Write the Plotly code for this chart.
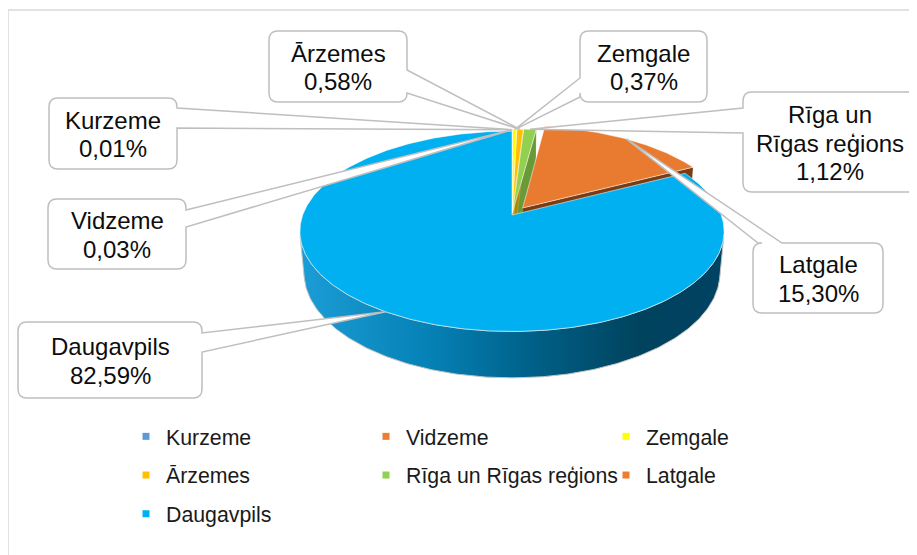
import math
import numpy as np
import plotly.graph_objects as go

# ---------------- data ----------------
regions = ["Kurzeme", "Vidzeme", "Zemgale", "Ārzemes", "Rīga un Rīgas reģions", "Latgale", "Daugavpils"]
callout_names = ["Kurzeme", "Vidzeme", "Zemgale", "Ārzemes", "Rīga un<br>Rīgas reģions", "Latgale", "Daugavpils"]
shares = [0.01, 0.03, 0.37, 0.58, 1.12, 15.30, 82.59]

# ---------------- styles ----------------
top_colors = ["#5B9BD5", "#ED7D31", "#FFFF00", "#FFC000", "#92D050", "#E97B31", "#00B0F0"]
side_colors = ["#3A6F9E", "#A8561F", "#B5B500", "#B38600", "#6A9A38", "#7A3C14", "#0080B0"]
legend_colors = ["#5B9BD5", "#ED7D31", "#FFFF00", "#FFC000", "#92D050", "#ED7D31", "#00B0F0"]
explode = [0.02, 0.02, 0.02, 0.025, 0.03, 0.09, 0.0]
wall_gradient = [[0.0, "#1C9DD6"], [0.3, "#0582B6"], [0.55, "#006088"], [0.8, "#00435E"], [1.0, "#004262"]]

W, H = 917, 555
OFF = 8  # the page body margin: axis units are screen pixels
FONT = "Liberation Sans, Arial, sans-serif"

# projection of the 3-D pie (screen pixels == axis units)
CX, CY = 512.0, 215.0
FOCAL = 1140.0
DIST = 5.447
ES, EC = 0.466, 0.885
THICK = 0.227
CAM = np.array([0.0, -DIST * EC, DIST * ES])


def project(X, Y, Z):
    X = np.asarray(X, float); Y = np.asarray(Y, float); Z = np.asarray(Z, float)
    yc = Y * ES + Z * EC
    dep = DIST + Y * EC - Z * ES
    return CX + FOCAL * X / dep, CY - FOCAL * yc / dep


def depth(X, Y, Z):
    return DIST + np.mean(Y) * EC - np.mean(Z) * ES


# callout layout: box x0, y0, x1, y1, side of pointer, pointer base from, to
callout_layout = {
    "Kurzeme": (49, 98, 177, 169, "right", 108, 128),
    "Vidzeme": (48, 199, 186, 269, "right", 210, 227),
    "Zemgale": (580, 31, 707, 102, "left", 78, 97),
    "Ārzemes": (269, 31, 407, 102, "right", 70, 93),
    "Rīga un Rīgas reģions": (743, 92, 916, 192, "left", 108, 133),
    "Latgale": (753, 243, 883, 313, "top", 758, 782),
    "Daugavpils": (18, 322, 202, 398, "right", 333, 352),
}
legend_cols = [[0, 3, 6], [1, 4], [2, 5]]
legend_text_x = [166, 406, 646]
legend_top = 416

fig = go.Figure()

# ---------------- geometry of slices ----------------
tot = sum(shares)
cum = np.concatenate([[0], np.cumsum(shares)]) / tot * 2 * math.pi
sides = []
tops = []
targets = []
for i, v in enumerate(shares):
    a, b = cum[i], cum[i + 1]
    m = 0.5 * (a + b)
    ox, oy = explode[i] * math.sin(m), explode[i] * math.cos(m)
    n = max(3, int(math.degrees(b - a) / 0.7) + 2)
    th = np.linspace(a, b, n)
    rx, ry = ox + np.sin(th), oy + np.cos(th)
    targets.append(tuple(float(t) for t in project(ox + math.sin(m), oy + math.cos(m), 0.0)))
    tx, ty = project(np.r_[ox, rx, ox], np.r_[oy, ry, oy], np.zeros(n + 2))
    tops.append((depth(rx, ry, 0), dict(x=tx, y=ty, fillcolor=top_colors[i],
                                         line=dict(color="rgba(255,255,255,0.65)", width=0.8))))
    vis = (-np.sin(th) * (rx - CAM[0]) - np.cos(th) * (ry - CAM[1])) > 0
    idx = np.where(vis)[0]
    if len(idx) > 1:
        segs = np.split(idx, np.where(np.diff(idx) > 1)[0] + 1)
        for sg in segs:
            if len(sg) < 2:
                continue
            X = np.r_[rx[sg], rx[sg][::-1]]
            Y = np.r_[ry[sg], ry[sg][::-1]]
            Z = np.r_[np.zeros(len(sg)), -THICK * np.ones(len(sg))]
            px, py = project(np.r_[X, X[0]], np.r_[Y, Y[0]], np.r_[Z, Z[0]])
            kw = dict(x=px, y=py, line=dict(color="#C4C4C4", width=1))
            if i == len(shares) - 1:
                kw["fillgradient"] = dict(type="horizontal", colorscale=wall_gradient)
            else:
                kw["fillcolor"] = side_colors[i]
            sides.append((depth(X, Y, Z), kw))
    for ang, nrm in ((a, (-math.cos(a), math.sin(a))), (b, (math.cos(b), -math.sin(b)))):
        if explode[i] == 0:
            continue
        X = np.array([ox, ox + math.sin(ang), ox + math.sin(ang), ox, ox])
        Y = np.array([oy, oy + math.cos(ang), oy + math.cos(ang), oy, oy])
        Z = np.array([0, 0, -THICK, -THICK, 0])
        cx_, cy_ = X[:4].mean(), Y[:4].mean()
        dot = nrm[0] * (CAM[0] - cx_) + nrm[1] * (CAM[1] - cy_)
        if dot <= 0:
            continue
        px, py = project(X, Y, Z)
        sides.append((depth(X[:4], Y[:4], Z[:4]), dict(x=px, y=py, fillcolor=side_colors[i],
                                                         line=dict(color="rgba(255,255,255,0.3)", width=0.5))))

for _, kw in sorted(sides, key=lambda s: -s[0]):
    fig.add_trace(go.Scatter(mode="lines", fill="toself", showlegend=False, hoverinfo="skip", **kw))
for _, kw in sorted(tops, key=lambda s: -s[0]):
    fig.add_trace(go.Scatter(mode="lines", fill="toself", showlegend=False, hoverinfo="skip", **kw))

# ---------------- legend ----------------
legend_keys = ["legend", "legend2", "legend3"]
for c, idxs in enumerate(legend_cols):
    for i in idxs:
        fig.add_trace(go.Scatter(x=[None], y=[None], mode="markers", name=regions[i],
                                 legend=legend_keys[c], legendgroup=regions[i],
                                 marker=dict(symbol="square", size=7, color=legend_colors[i])))

# ---------------- callouts ----------------
def fmt(p):
    return f"{p[0]:.2f},{p[1]:.2f}"


def callout_path(x0, y0, x1, y1, r, side, g1, g2, target):
    order = ["top", "right", "bottom", "left"]
    ends = {"top": (x1 - r, y0), "right": (x1, y1 - r), "bottom": (x0 + r, y1), "left": (x0, y0 + r)}
    corners = {"top": ((x1, y0), (x1, y0 + r)), "right": ((x1, y1), (x1 - r, y1)),
               "bottom": ((x0, y1), (x0, y1 - r)), "left": ((x0, y0), (x0 + r, y0))}

    def pt(s, t):
        return {"top": (t, y0), "right": (x1, t), "bottom": (t, y1), "left": (x0, t)}[s]

    lo, hi = min(g1, g2), max(g1, g2)
    if side in ("top", "right"):
        first, second = pt(side, lo), pt(side, hi)
    else:
        first, second = pt(side, hi), pt(side, lo)
    k = order.index(side)
    d = f"M{fmt(second)} L{fmt(ends[side])} Q{fmt(corners[side][0])} {fmt(corners[side][1])}"
    for j in range(1, 4):
        s = order[(k + j) % 4]
        d += f" L{fmt(ends[s])} Q{fmt(corners[s][0])} {fmt(corners[s][1])}"
    d += f" L{fmt(first)} L{fmt(target)} Z"
    return d


shapes = [dict(type="rect", xref="x", yref="y", x0=8, y0=10, x1=940, y1=580,
               line=dict(color="#D9D9D9", width=1.5), fillcolor="rgba(0,0,0,0)", layer="below")]
annotations = []
for i, name in enumerate(regions):
    x0, y0, x1, y1, side, g1, g2 = callout_layout[name]
    shapes.append(dict(type="path", xref="x", yref="y", layer="above",
                       path=callout_path(x0, y0, x1, y1, 9, side, g1, g2, targets[i]),
                       fillcolor="white", line=dict(color="#BFBFBF", width=1.5)))
    pct = f"{shares[i]:.2f}".replace(".", ",") + "%"
    lines = callout_names[i].split("<br>") + [pct]
    cxb, cyb = 0.5 * (x0 + x1), 0.5 * (y0 + y1) + 1
    pitch = 28.5
    for k, ln in enumerate(lines):
        yy = cyb + (k - (len(lines) - 1) / 2) * pitch
        annotations.append(dict(x=cxb, y=yy, xref="x", yref="y", text=ln, showarrow=False,
                                xanchor="center", yanchor="middle",
                                font=dict(family=FONT, size=24, color="#0D0D0D")))

layout_legends = {}
for c, key in enumerate(legend_keys):
    layout_legends[key] = dict(x=(legend_text_x[c] - 40 - OFF) / W, y=1 - (legend_top - OFF) / H,
                               xanchor="left", yanchor="top", orientation="v",
                               traceorder="grouped", tracegroupgap=8,
                               bgcolor="rgba(0,0,0,0)", borderwidth=0,
                               font=dict(family=FONT, size=21.3, color="#1A1A1A"))

fig.update_layout(
    width=W, height=H, margin=dict(l=0, r=0, t=0, b=0),
    paper_bgcolor="white", plot_bgcolor="white",
    xaxis=dict(range=[OFF, OFF + W], visible=False, fixedrange=True),
    yaxis=dict(range=[OFF + H, OFF], visible=False, fixedrange=True),
    shapes=shapes, annotations=annotations, showlegend=True,
    **layout_legends,
)

fig.write_html("out.html")
